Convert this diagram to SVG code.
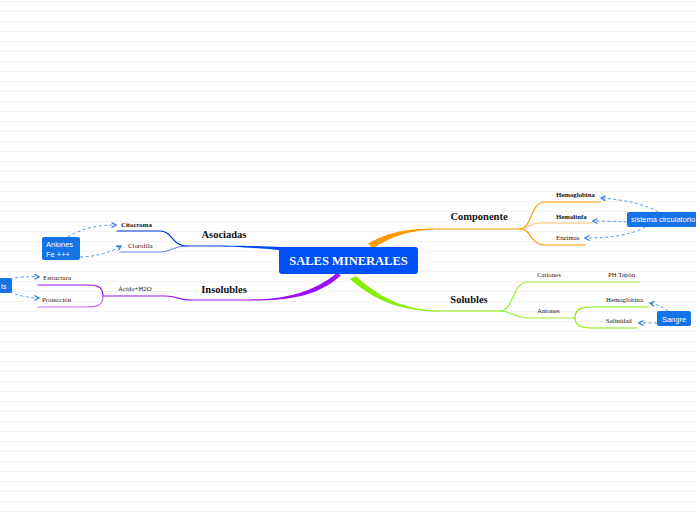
<svg xmlns="http://www.w3.org/2000/svg" width="696" height="520" viewBox="0 0 696 520">
<defs>
<marker id="ah" viewBox="0 0 6 6" refX="5" refY="3" markerWidth="6" markerHeight="6" orient="auto" markerUnits="userSpaceOnUse">
<path d="M0.5,0.5 L5,3 L0.5,5.5" fill="none" stroke="#2f80e0" stroke-width="1.3"/>
</marker>
<style>
.big{font-family:"Liberation Serif",serif;font-weight:bold;font-size:10.5px;fill:#111;text-anchor:middle}
.sm{font-family:"Liberation Serif",serif;font-size:6.8px;fill:#222}
.smb{font-family:"Liberation Serif",serif;font-size:6.8px;fill:#111;font-weight:bold}
.box{fill:#1473e6}
.bt{font-family:"Liberation Sans",Arial,sans-serif;font-size:7.5px;fill:#fff}
.dash{fill:none;stroke:#4b95e8;stroke-width:1;stroke-dasharray:3 2.5;marker-end:url(#ah)}
.ln{fill:none;stroke-width:1.2;stroke-linecap:round}
</style>
</defs>
<rect width="696" height="520" fill="#fff"/>
<path stroke="#f3f3f3" stroke-width="1" d="M0,1.5H696M0,11.5H696M0,21.5H696M0,31.5H696M0,41.5H696M0,51.5H696M0,61.5H696M0,71.5H696M0,81.5H696M0,91.5H696M0,101.5H696M0,111.5H696M0,121.5H696M0,131.5H696M0,141.5H696M0,151.5H696M0,161.5H696M0,171.5H696M0,181.5H696M0,191.5H696M0,201.5H696M0,211.5H696M0,221.5H696M0,231.5H696M0,241.5H696M0,251.5H696M0,261.5H696M0,271.5H696M0,281.5H696M0,291.5H696M0,301.5H696M0,311.5H696M0,321.5H696M0,331.5H696M0,341.5H696M0,351.5H696M0,361.5H696M0,371.5H696M0,381.5H696M0,391.5H696M0,401.5H696M0,411.5H696M0,421.5H696M0,431.5H696M0,441.5H696M0,451.5H696M0,461.5H696M0,471.5H696M0,481.5H696M0,491.5H696M0,501.5H696M0,511.5H696"/>

<g id="connectors">
<path d="M368,243.5 C392,230 412,228.4 440,228.4 L440,229.6 C414,229.6 396,234 373,248.5 Z" fill="#ff9900"/>
<path class="ln" stroke="#ff9900" d="M440,229 L520,229"/>
<path d="M356,276 C384,302 410,310.4 440,310.4 L440,311.6 C408,311.6 378,304 350,279 Z" fill="#88ee00"/>
<path class="ln" stroke="#88ee00" d="M440,311 L500,311"/>
<path d="M337,273 C312,293 284,299.4 250,299.4 L250,300.6 C286,300.6 316,297.5 341,275.5 Z" fill="#9a10ff"/>
<path class="ln" stroke="#9a10ff" d="M250,300 L190,300"/>
<path d="M282,247 C260,246 230,245.6 210,245.6 L210,246.6 C232,246.6 262,248 282,250.5 Z" fill="#0048f0"/>
<path class="ln" stroke="#0048f0" d="M210,246 L187,246"/>

<path class="ln" stroke="#0037d8" d="M187,246 C172,246 172,231 160,231 L117,231"/>
<path class="ln" stroke="#6f8ff8" stroke-width="1.8" d="M187,246 C172,246 172,252 160,252 L120,252"/>
<path class="ln" stroke="#9a10ff" d="M190,300 C178,300 178,296 165,296 L103,296"/>
<path class="ln" stroke="#9a10ff" d="M103,296 C103,285 95,285 85,285 L38,285"/>
<path class="ln" stroke="#bf70ff" stroke-width="1.8" d="M103,296 C103,307 95,307 85,307 L38,307"/>
<path class="ln" stroke="#ff9900" d="M520,229 C532,229 530,202 545,202 L600,202"/>
<path class="ln" stroke="#ffc070" stroke-width="1.8" d="M520,229 C528,229 530,223 540,223 L592,223"/>
<path class="ln" stroke="#ff9900" d="M520,229 C532,229 530,245 545,245 L585,245"/>
<path class="ln" stroke="#99ee33" d="M500,311 C514,311 512,282 528,282 L640,282"/>
<path class="ln" stroke="#99ee33" stroke-width="1.5" d="M500,311 C512,311 514,318 528,318 L575,318"/>
<path class="ln" stroke="#88ee00" d="M575,318 C575,307 585,307 595,307 L648,307"/>
<path class="ln" stroke="#88ee00" d="M575,318 C575,328 585,328 595,328 L637,328"/>

<path class="dash" d="M68,237 Q86,225 116,225"/>
<path class="dash" d="M80,257 Q105,256 121,246"/>
<path class="dash" d="M10,279 Q22,276 39,277"/>
<path class="dash" d="M10,292 Q24,298 39,298"/>
<path class="dash" d="M658,212 Q640,201 601,198"/>
<path class="dash" d="M627,222 Q610,221 593,221"/>
<path class="dash" d="M645,227 Q627,238 585,238"/>
<path class="dash" d="M668,311 Q661,305 650,303"/>
<path class="dash" d="M657,323 L639,323"/>
</g>

<g id="n-center">
<rect x="279" y="247" width="139" height="27" rx="3" fill="#0050f8"/>
<text x="348.5" y="265" text-anchor="middle" font-family="Liberation Serif,serif" font-weight="bold" font-size="12.5" fill="#fff">SALES MINERALES</text>
</g>
<g id="n-asociadas"><text class="big" x="224" y="238">Asociadas</text></g>
<g id="n-insolubles"><text class="big" x="224" y="293">Insolubles</text></g>
<g id="n-componente"><text class="big" x="479" y="220">Componente</text></g>
<g id="n-solubles"><text class="big" x="469" y="303">Solubles</text></g>

<g id="n-citocroma"><text class="smb" x="121" y="227">Citocroma</text></g>
<g id="n-clorofila"><text class="sm" x="128" y="248">Clorofila</text></g>
<g id="n-acido"><text class="sm" x="118" y="291">Ácido+H2O</text></g>
<g id="n-estructura"><text class="sm" x="43" y="280">Estructura</text></g>
<g id="n-proteccion"><text class="sm" x="42" y="302">Protección</text></g>

<g id="n-hemoglobina"><text class="smb" x="556" y="197">Hemoglobina</text></g>
<g id="n-hemolinfa"><text class="smb" x="556" y="219">Hemolinfa</text></g>
<g id="n-enzimas"><text class="sm" x="556" y="240">Enzimas</text></g>

<g id="n-cationes"><text class="sm" x="537" y="277">Cationes</text></g>
<g id="n-phtapon"><text class="sm" x="608" y="277">PH Tapón</text></g>
<g id="n-aniones"><text class="sm" x="537" y="313">Aniones</text></g>
<g id="n-hemoglobina2"><text class="sm" x="606" y="302">Hemoglobina</text></g>
<g id="n-salinidad"><text class="sm" x="606" y="323">Salinidad</text></g>

<g id="n-anionesfe">
<rect class="box" x="42" y="237" width="38" height="23" rx="2"/>
<text class="bt" x="46" y="246.5">Aniones</text>
<text class="bt" x="46" y="256.5">Fe +++</text>
</g>
<g id="n-ls">
<rect class="box" x="-40" y="278" width="52" height="15" rx="2"/>
<text class="bt" x="1" y="288.5">ls</text>
</g>
<g id="n-sistema">
<rect class="box" x="627" y="212" width="75" height="15" rx="2"/>
<text class="bt" x="631" y="222" font-size="7.2">sistema circulatorio</text>
</g>
<g id="n-sangre">
<rect class="box" x="657" y="311" width="34" height="15" rx="2"/>
<text class="bt" x="674" y="321.5" text-anchor="middle" font-size="8">Sangre</text>
</g>
</svg>
